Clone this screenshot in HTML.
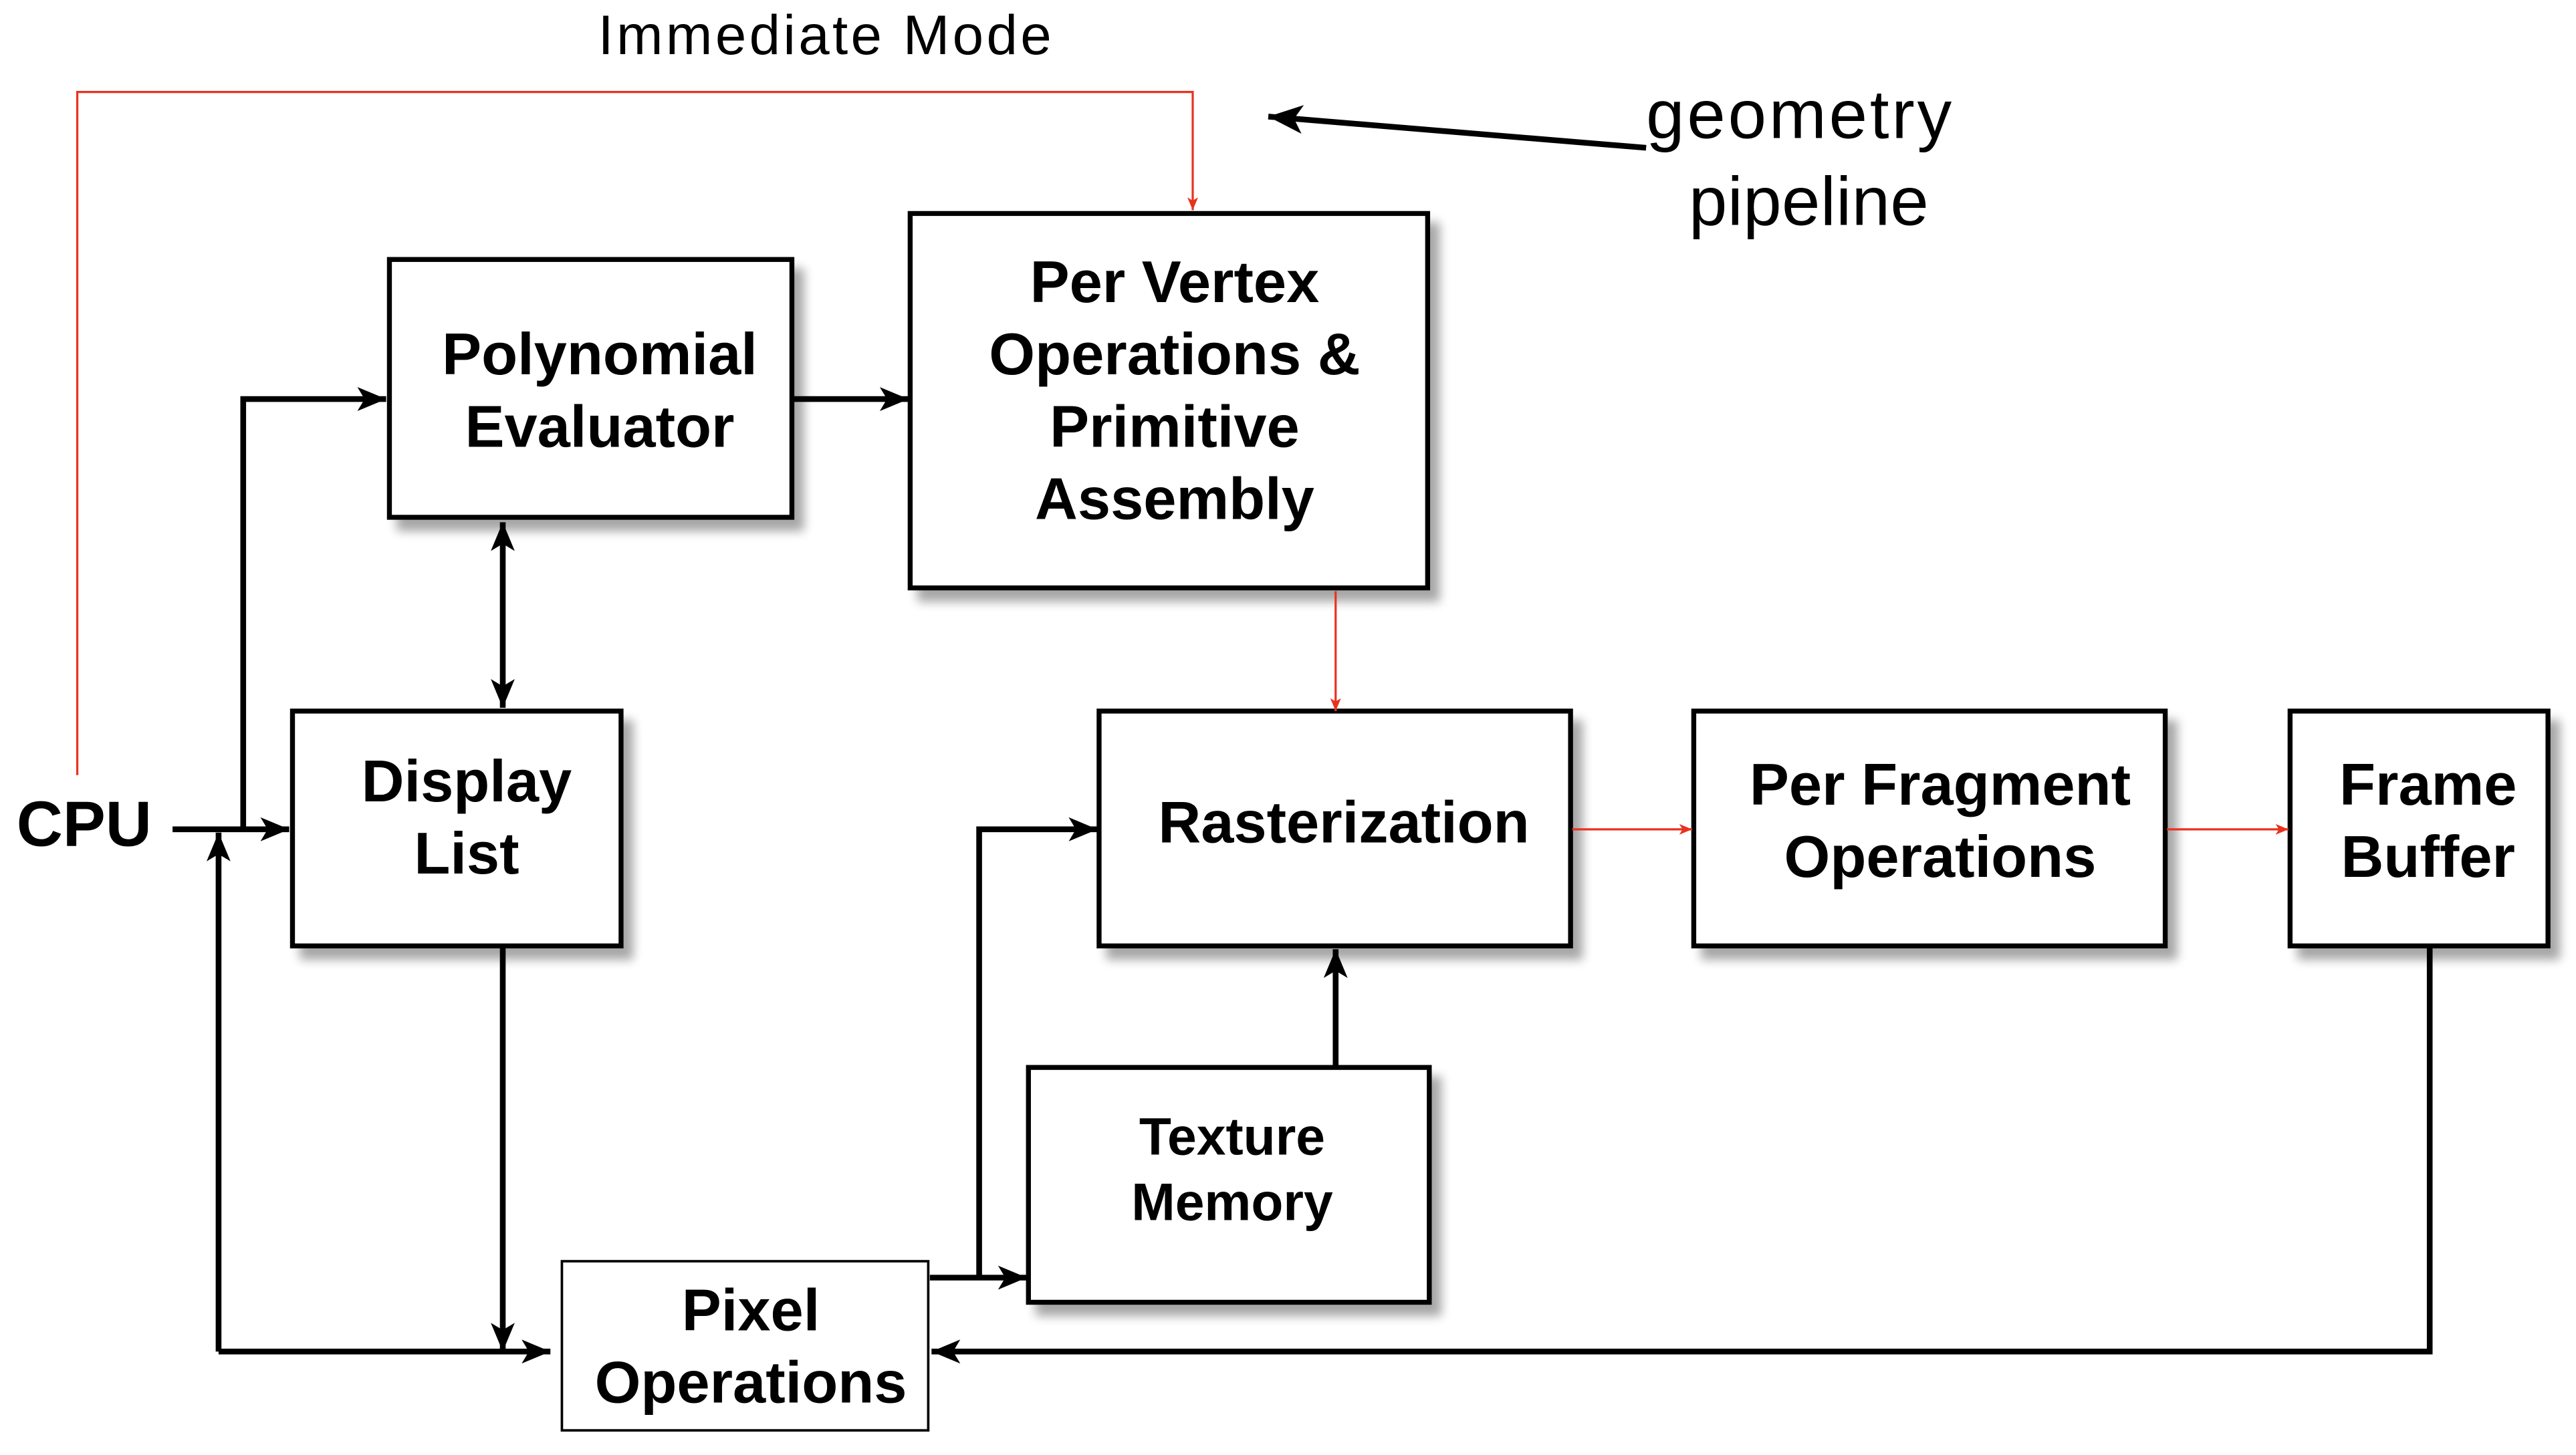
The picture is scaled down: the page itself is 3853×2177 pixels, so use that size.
<!DOCTYPE html>
<html><head><meta charset="utf-8"><style>
html,body{margin:0;padding:0;background:#fff;width:3853px;height:2177px;overflow:hidden}
svg{display:block}
text{font-family:"Liberation Sans",Arial,sans-serif}
.b{font-weight:bold;font-size:36px;text-anchor:middle;fill:#000}
</style></head><body>
<svg width="3853" height="2177" viewBox="0 0 1568 886" xmlns="http://www.w3.org/2000/svg">
<defs>
<filter id="sh" x="-10%" y="-10%" width="130%" height="130%">
<feGaussianBlur in="SourceAlpha" stdDeviation="3"/><feOffset dx="6" dy="7"/>
<feComponentTransfer><feFuncA type="linear" slope="0.35"/></feComponentTransfer>
<feMerge><feMergeNode/><feMergeNode in="SourceGraphic"/></feMerge></filter>
<marker id="a" viewBox="0 0 12 10" refX="12" refY="5" markerWidth="5" markerHeight="5" orient="auto-start-reverse" markerUnits="strokeWidth">
<path d="M0,0 L12,5 L0,10 L3,5 Z" fill="#000"/></marker>
<marker id="r" viewBox="0 0 12 10" refX="12" refY="5" markerWidth="6" markerHeight="6" orient="auto" markerUnits="strokeWidth">
<path d="M0,0 L12,5 L0,10 L3,5 Z" fill="#e8321e"/></marker>
<marker id="g" viewBox="0 0 12 10" refX="12" refY="5" markerWidth="6" markerHeight="6" orient="auto" markerUnits="strokeWidth">
<path d="M0,0 L12,5 L0,10 L3,5 Z" fill="#000"/></marker>
</defs>
<g fill="#fff" stroke="#000" stroke-width="3" filter="url(#sh)">
<rect x="237" y="158" width="245" height="157"/>
<rect x="554" y="130" width="315" height="228"/>
<rect x="178" y="433" width="200" height="143"/>
<rect x="669" y="433" width="287" height="143"/>
<rect x="1031" y="433" width="287" height="143"/>
<rect x="1394" y="433" width="157" height="143"/>
<rect x="626" y="650" width="244" height="143"/>
</g>
<rect x="342" y="768" width="223" height="103" fill="#fff" stroke="#000" stroke-width="1.5"/>
<g fill="none" stroke="#e8321e" stroke-width="1.3">
<polyline points="47,472 47,56 726,56 726,128" marker-end="url(#r)"/>
<line x1="813" y1="360" x2="813" y2="433" marker-end="url(#r)"/>
<line x1="957" y1="505" x2="1030" y2="505" marker-end="url(#r)"/>
<line x1="1319" y1="505" x2="1393" y2="505" marker-end="url(#r)"/>
</g>
<g fill="none" stroke="#000" stroke-width="3.5">
<line x1="105" y1="505" x2="176" y2="505" marker-end="url(#a)"/>
<polyline points="148,505 148,243 235,243" marker-end="url(#a)"/>
<line x1="483" y1="243" x2="553" y2="243" marker-end="url(#a)"/>
<line x1="306" y1="318" x2="306" y2="431" marker-start="url(#a)" marker-end="url(#a)"/>
<line x1="306" y1="577" x2="306" y2="823" marker-end="url(#a)"/>
<polyline points="133,823 133,507" marker-end="url(#a)"/>
<line x1="133" y1="823" x2="335" y2="823" marker-end="url(#a)"/>
<polyline points="1479,577 1479,823 567,823" marker-end="url(#a)"/>
<line x1="566" y1="778" x2="625" y2="778" marker-end="url(#a)"/>
<polyline points="596,778 596,505 668,505" marker-end="url(#a)"/>
<line x1="813" y1="650" x2="813" y2="578" marker-end="url(#a)"/>
<line x1="1002" y1="90" x2="772" y2="71" marker-end="url(#g)"/>
</g>
<text x="502" y="33" text-anchor="middle" font-size="34" textLength="276">Immediate Mode</text>
<text x="1002" y="84" font-size="42" font-family="'DejaVu Sans',sans-serif" textLength="186">geometry</text>
<text x="1028" y="137" font-size="42" font-family="'DejaVu Sans',sans-serif" textLength="146">pipeline</text>
<text x="10" y="515" font-size="39" font-weight="bold">CPU</text>
<text class="b" x="365" y="228">Polynomial</text>
<text class="b" x="365" y="272">Evaluator</text>
<text class="b" x="715" y="184">Per Vertex</text>
<text class="b" x="715" y="228">Operations &amp;</text>
<text class="b" x="715" y="272">Primitive</text>
<text class="b" x="715" y="316">Assembly</text>
<text class="b" x="284" y="488">Display</text>
<text class="b" x="284" y="532">List</text>
<text class="b" x="818" y="513">Rasterization</text>
<text class="b" x="1181" y="490">Per Fragment</text>
<text class="b" x="1181" y="534">Operations</text>
<text class="b" x="1478" y="490">Frame</text>
<text class="b" x="1478" y="534">Buffer</text>
<text class="b" x="750" y="703" style="font-size:32px">Texture</text>
<text class="b" x="750" y="743" style="font-size:32px">Memory</text>
<text class="b" x="457" y="810">Pixel</text>
<text class="b" x="457" y="854">Operations</text>
</svg>
</body></html>
